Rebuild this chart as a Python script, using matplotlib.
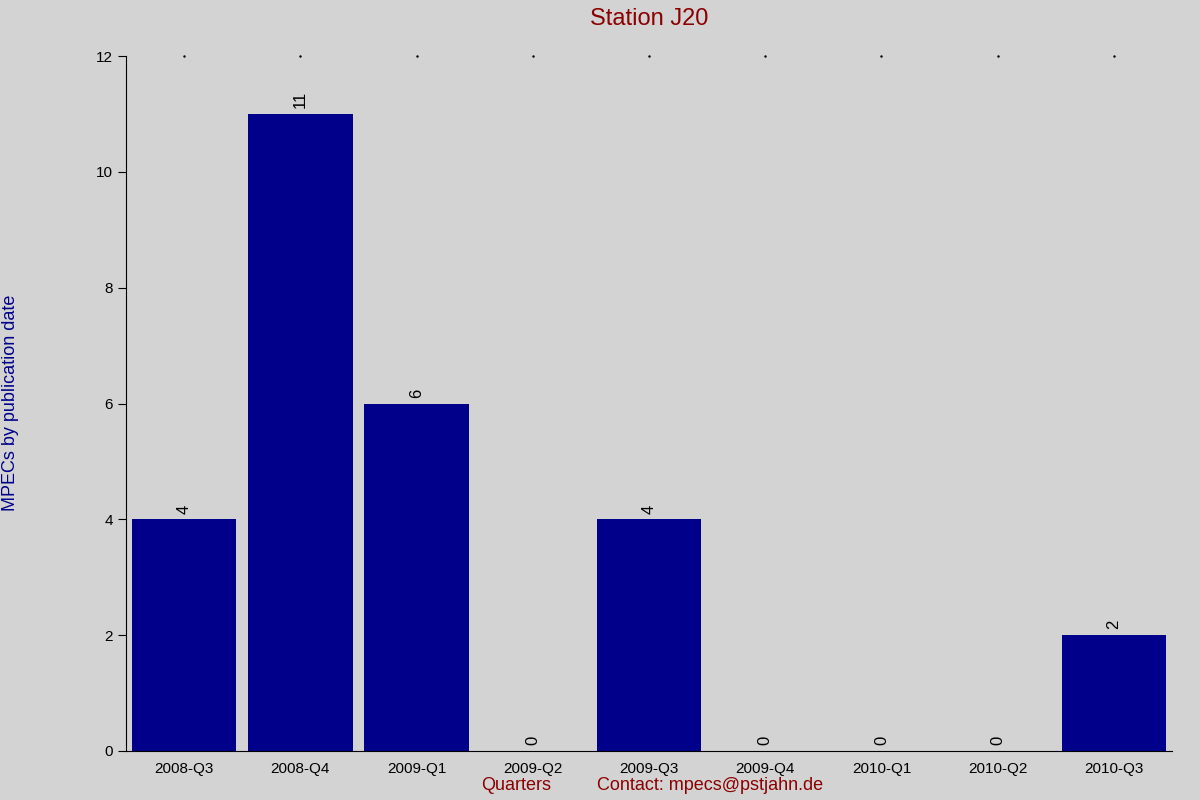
import matplotlib
matplotlib.use("Agg")
import matplotlib.pyplot as plt

quarters = ["2008-Q3","2008-Q4","2009-Q1","2009-Q2","2009-Q3","2009-Q4","2010-Q1","2010-Q2","2010-Q3"]
counts = [4, 11, 6, 0, 4, 0, 0, 0, 2]

plt.rcParams['font.family'] = ['Liberation Sans', 'DejaVu Sans']
fig = plt.figure(figsize=(12, 8), dpi=100, facecolor='#d3d3d3')
ax = fig.add_axes([126/1200, 1-751/800, (1172-126)/1200, (751-56)/800])
ax.set_facecolor('#d3d3d3')
x = list(range(len(quarters)))
ax.bar(x, counts, width=0.9, color='#00008b')
for xi, c in zip(x, counts):
    ax.text(xi, c + 0.1, str(c), rotation=90, ha='center', va='bottom', fontsize=12, color='black')
ax.set_xlim(-0.5, len(quarters) - 0.5)
ax.set_ylim(0, 12)
ax.set_yticks([0, 2, 4, 6, 8, 10, 12])
ax.set_xticks(x)
ax.set_xticklabels(quarters, fontsize=11)
ax.tick_params(axis='y', labelsize=11, length=6)
ax.tick_params(axis='x', length=0, pad=8)
for s in ['top', 'right']:
    ax.spines[s].set_visible(False)
for xi in x:
    ax.plot(xi, 12, marker='.', markersize=1.5, color='black', clip_on=False)
ax.set_title("Station J20", color='#8b0000', fontsize=17, pad=22)
fig.text(11/1200, 1-403/800, "MPECs by publication date", color='#00008b', fontsize=13,
         rotation=90, ha='center', va='center')
fig.text(516/1200, 1-786/800, "Quarters", color='#8b0000', fontsize=13, ha='center', va='center')
fig.text(710/1200, 1-786/800, "Contact: mpecs@pstjahn.de", color='#8b0000', fontsize=13, ha='center', va='center')
fig.savefig("out.png", dpi=100, facecolor=fig.get_facecolor())
